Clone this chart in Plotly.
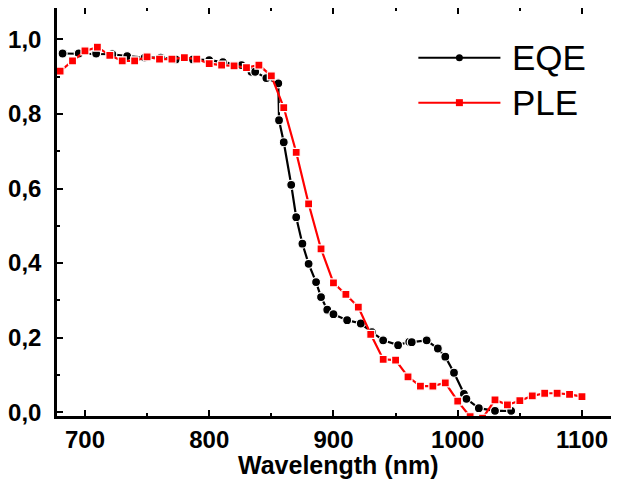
import plotly.graph_objects as go

# EQE (black circles)
eqe_x = [682, 695, 709, 722, 734, 748, 761, 773, 787, 800, 811, 826, 834, 837, 846, 855.6,
         856.2, 860, 866, 870, 875, 880, 886, 890, 895, 900, 911, 922, 931, 940, 952,
         961, 963, 975, 984, 990, 997, 1005, 1007, 1017, 1030, 1043]
eqe_y = [0.962, 0.962, 0.962, 0.960, 0.955, 0.951, 0.951, 0.946, 0.946, 0.944, 0.939, 0.931,
         0.913, 0.913, 0.896, 0.882, 0.783, 0.724, 0.610, 0.523, 0.452, 0.398, 0.349, 0.309,
         0.275, 0.263, 0.247, 0.238, 0.215, 0.193, 0.180, 0.189, 0.188, 0.193, 0.171, 0.149,
         0.106, 0.049, 0.036, 0.011, 0.004, 0.004]

# PLE (red squares)
ple_x = [680, 690, 700, 710, 720, 730, 740, 750, 760, 770, 780, 790, 800, 810, 820, 830, 840,
         850, 860, 870, 880, 890, 900, 910, 920, 930, 940, 950, 960, 970, 980, 990, 1000,
         1010, 1020, 1030, 1040, 1050, 1060, 1070, 1080, 1090, 1100]
ple_y = [0.915, 0.942, 0.969, 0.979, 0.957, 0.942, 0.942, 0.953, 0.947, 0.947, 0.951, 0.947,
         0.935, 0.931, 0.929, 0.924, 0.931, 0.902, 0.817, 0.697, 0.559, 0.438, 0.347, 0.316,
         0.282, 0.209, 0.142, 0.140, 0.095, 0.070, 0.070, 0.079, 0.030, -0.012, -0.016,
         0.033, 0.020, 0.031, 0.044, 0.051, 0.051, 0.048, 0.042]

x_ticks = [700, 800, 900, 1000, 1100]
y_ticks = [0.0, 0.2, 0.4, 0.6, 0.8, 1.0]
series_names = ["EQE", "PLE"]
x_title = "Wavelength (nm)"

fig = go.Figure()
fig.add_trace(go.Scatter(
    x=eqe_x, y=eqe_y, mode="lines+markers", name=series_names[0],
    line=dict(color="black", width=2.2),
    marker=dict(symbol="circle", size=9, color="black", line=dict(color="white", width=1.2)),
    showlegend=False))
fig.add_trace(go.Scatter(
    x=ple_x, y=ple_y, mode="lines+markers", name=series_names[1],
    line=dict(color="#ff0000", width=2.2),
    marker=dict(symbol="square", size=8, color="#ff0000", line=dict(color="white", width=1.2)),
    showlegend=False))

tick_font = dict(family="Liberation Sans, Arial", size=24, color="black", weight="bold")
title_font = dict(family="Liberation Sans, Arial", size=25, color="black", weight="bold")

fig.update_xaxes(
    range=[677.5, 1129.8], tickvals=x_ticks, ticktext=[str(v) for v in x_ticks],
    showline=True, linecolor="black", linewidth=2.5, mirror="ticks",
    ticks="inside", ticklen=6, tickwidth=2, tickcolor="black",
    minor=dict(ticks="inside", ticklen=3, tickwidth=2, dtick=50, tick0=700, tickcolor="black"),
    showgrid=False, zeroline=False, tickfont=tick_font, automargin=False)
fig.update_yaxes(
    range=[-0.01, 1.084], tickvals=y_ticks, tickformat=".1f",
    showline=True, linecolor="black", linewidth=2.5, mirror=False,
    ticks="inside", ticklen=6, tickwidth=2, tickcolor="black",
    minor=dict(ticks="inside", ticklen=3, tickwidth=2, dtick=0.1, tick0=0, tickcolor="black"),
    showgrid=False, zeroline=False, tickfont=tick_font, ticklabelstandoff=8, automargin=False)

# x-axis title as annotation (tight under tick labels)
fig.add_annotation(text=x_title, xref="paper", yref="paper", x=0.5, y=0,
                   xanchor="center", yanchor="top", yshift=-33, showarrow=False,
                   font=title_font)

# Custom legend (paper coordinates)
leg = [("EQE", "black", "circle", 0.878), ("PLE", "#ff0000", "square", 0.768)]
for name, col, sym, yy in leg:
    fig.add_shape(type="line", xref="paper", yref="paper", x0=0.643, x1=0.789, y0=yy, y1=yy,
                  line=dict(color=col, width=2))
    fig.add_shape(type="circle" if sym == "circle" else "rect", xref="paper", yref="paper",
                  xsizemode="pixel", ysizemode="pixel", xanchor=0.716, yanchor=yy,
                  x0=-3.5, x1=3.5, y0=-3.5, y1=3.5, fillcolor=col, line=dict(color=col, width=0))
    fig.add_annotation(text=name, xref="paper", yref="paper", x=0.806, y=yy,
                       xanchor="left", yanchor="middle", showarrow=False,
                       font=dict(family="Liberation Sans, Arial", size=35, color="black"))

# page body adds an 8px offset; compensate with margins
fig.update_layout(
    width=611, height=471, separators=",.",
    margin=dict(l=49, r=0, t=0, b=63),
    plot_bgcolor="white", paper_bgcolor="white")

fig.write_html("out.html")
